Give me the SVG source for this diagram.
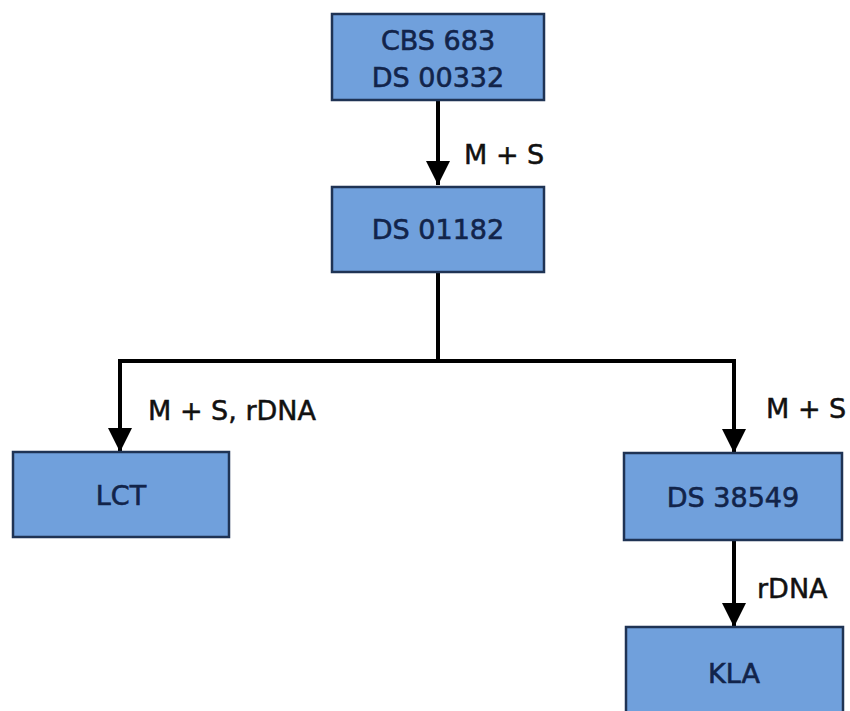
<svg xmlns="http://www.w3.org/2000/svg" width="850" height="711" viewBox="0 0 850 711">
<defs>
<style>
.box{fill:#70a0dc;stroke:#1f3354;stroke-width:2.5}
.t{font-family:"DejaVu Sans",sans-serif;font-size:27px;fill:#12244a;stroke:#12244a;stroke-width:0.6;text-anchor:middle}
.l{font-family:"DejaVu Sans",sans-serif;font-size:27px;fill:#111;stroke:#111;stroke-width:0.5}
.c{fill:none;stroke:#000;stroke-width:4}
</style>
<marker id="ah" viewBox="0 0 10 10" refX="10" refY="5" markerWidth="6" markerHeight="6" markerUnits="strokeWidth" orient="auto">
<path d="M0,0 L10,5 L0,10 z" fill="#000"/>
</marker>
</defs>
<rect width="850" height="711" fill="#fff"/>
<g id="connectors">
<path class="c" d="M438,100 V185" marker-end="url(#ah)"/>
<path class="c" d="M438,272 V361 H120 V452" marker-end="url(#ah)"/>
<path class="c" d="M438,361 H734 V453" marker-end="url(#ah)"/>
<path class="c" d="M734,540 V627" marker-end="url(#ah)"/>
<text class="l" x="464" y="164">M + S</text>
<text class="l" x="148" y="420">M + S, rDNA</text>
<text class="l" x="766" y="418">M + S</text>
<text class="l" x="757" y="598">rDNA</text>
</g>
<g id="n1">
<rect class="box" x="332" y="14" width="212" height="86"/>
<text class="t" x="438" y="50">CBS 683</text>
<text class="t" x="438" y="87">DS 00332</text>
</g>
<g id="n2">
<rect class="box" x="332" y="187" width="212" height="85"/>
<text class="t" x="438" y="239">DS 01182</text>
</g>
<g id="n3">
<rect class="box" x="13" y="452" width="216" height="85"/>
<text class="t" x="121" y="505">LCT</text>
</g>
<g id="n4">
<rect class="box" x="624" y="453" width="218" height="87"/>
<text class="t" x="733" y="507">DS 38549</text>
</g>
<g id="n5">
<rect class="box" x="626" y="627" width="217" height="100"/>
<text class="t" x="734" y="683">KLA</text>
</g>
</svg>
